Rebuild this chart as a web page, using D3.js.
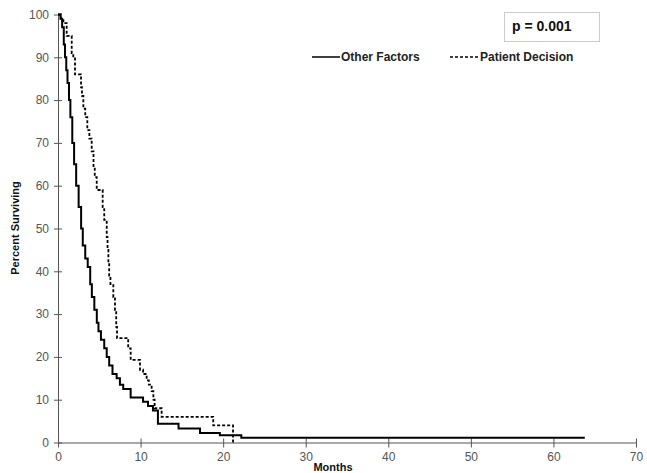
<!DOCTYPE html>
<html><head><meta charset="utf-8">
<script src="https://cdn.jsdelivr.net/npm/d3@7"></script>
<style>body{margin:0;background:#fff}svg{display:block;font-family:"Liberation Sans",Arial,sans-serif}</style>
</head><body><svg id="c" width="647" height="473"></svg>
<script>
const xTicks = [0,10,20,30,40,50,60,70];
const yTicks = [0,10,20,30,40,50,60,70,80,90,100];
const seriesNames = ["Other Factors","Patient Decision"];
const otherFactors = [[0,100],[0.3,99],[0.5,97],[0.7,93],[0.85,90],[1.0,87],[1.15,84],[1.33,80],[1.5,76],[1.73,70],[1.95,65],[2.2,60],[2.5,55],[2.8,50],[3.0,46],[3.3,43],[3.6,41],[3.9,37],[4.1,34],[4.4,31],[4.7,28],[4.9,26],[5.2,24],[5.6,22],[5.9,20],[6.2,18],[6.6,16],[7.1,15],[7.5,13.5],[7.9,12.5],[8.8,10.5],[10.3,9.5],[10.9,8.5],[11.5,7.5],[12.1,4.4],[14.6,3.3],[17.2,2.2],[19.6,1.7],[22.2,1.1],[63.8,1.1]];
const patientDecision = [[0,100],[0.35,99],[0.65,98],[1.05,95],[1.66,91],[1.85,90],[2.06,86],[2.79,83],[2.9,81],[3.07,78],[3.3,76],[3.55,73],[3.8,71],[4.08,68],[4.3,64],[4.45,62],[4.69,59],[5.41,55],[5.6,52],[5.9,48],[6.0,45],[6.1,42],[6.2,39],[6.35,37],[6.7,34],[6.9,31],[7.05,27],[7.15,24.4],[8.5,22],[8.8,19.3],[9.93,17],[10.3,16],[10.74,14.5],[11.0,13.5],[11.34,12],[11.55,10],[11.7,8],[12.55,6],[18.8,4],[21.2,0]];
const pText = "p = 0.001";

const svg = d3.select("#c");
const x = d3.scaleLinear().domain([0,70]).range([58,636]);
const y = d3.scaleLinear().domain([0,100]).range([442.5,14.5]);
const axisCol = "#555", textCol = "#555";

// y axis
const ya = svg.append("g").attr("transform",`translate(${x(0)},0)`)
  .call(d3.axisLeft(y).tickValues(yTicks).tickSizeInner(4).tickSizeOuter(0).tickPadding(4));
ya.select(".domain").attr("stroke",axisCol);
ya.selectAll(".tick line").attr("stroke",axisCol).attr("x1",4).attr("x2",-4);
ya.selectAll(".tick text").attr("fill",textCol).attr("font-size",12).attr("x",-9);

// x axis
const xa = svg.append("g").attr("transform",`translate(0,${y(0)})`)
  .call(d3.axisBottom(x).tickValues(xTicks).tickSizeInner(4).tickSizeOuter(0).tickPadding(6));
xa.select(".domain").attr("stroke",axisCol);
xa.selectAll(".tick line").attr("stroke",axisCol).attr("y1",-4).attr("y2",5);
xa.selectAll(".tick text").attr("fill",textCol).attr("font-size",12).attr("y",10);

// titles
svg.append("text").attr("transform","translate(19,228) rotate(-90)").attr("text-anchor","middle")
  .attr("font-size",11).attr("font-weight","bold").attr("fill","#111").text("Percent Surviving");
svg.append("text").attr("x",333).attr("y",471).attr("text-anchor","middle")
  .attr("font-size",11).attr("font-weight","bold").attr("fill","#111").text("Months");

const line = d3.line().x(d=>x(d[0])).y(d=>y(d[1])).curve(d3.curveStepAfter);
svg.append("path").attr("d",line(otherFactors)).attr("fill","none").attr("stroke","#000").attr("stroke-width",2);
svg.append("path").attr("d",line(patientDecision)).attr("fill","none").attr("stroke","#000").attr("stroke-width",1.8).attr("stroke-dasharray","3,2");

// legend
const lg = svg.append("g").attr("font-size",12).attr("font-weight","bold").attr("fill","#222");
lg.append("line").attr("x1",312).attr("x2",340).attr("y1",57).attr("y2",57).attr("stroke","#000").attr("stroke-width",1.5);
lg.append("text").attr("x",341).attr("y",61).text(seriesNames[0]);
lg.append("line").attr("x1",450).attr("x2",479).attr("y1",57).attr("y2",57).attr("stroke","#000").attr("stroke-width",1.5).attr("stroke-dasharray","3,2");
lg.append("text").attr("x",480).attr("y",61).text(seriesNames[1]);

// p box
svg.append("rect").attr("x",504.5).attr("y",12.5).attr("width",95).attr("height",29).attr("fill","#fff").attr("stroke","#ccc");
svg.append("text").attr("x",512).attr("y",31).attr("font-size",14).attr("font-weight","bold").attr("fill","#111").text(pText);
</script></body></html>
